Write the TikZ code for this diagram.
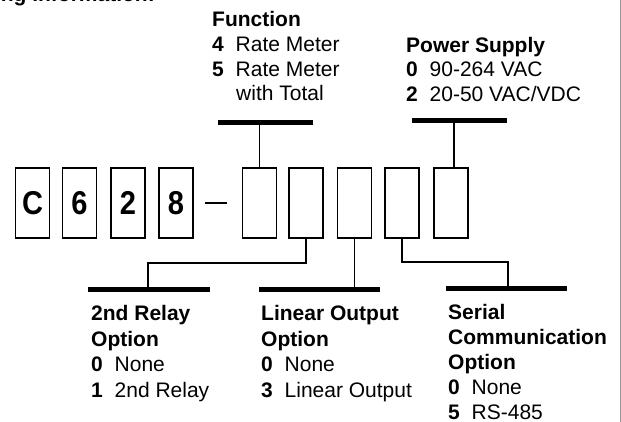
\documentclass[tikz,border=0pt]{standalone}
\usepackage{fontspec}
\setmainfont{Liberation Sans}
\newfontfamily\digitfont{Liberation Sans}[FakeStretch=0.88]
\usetikzlibrary{calc}
\tikzset{
  digitbox/.style={draw, line width=1.7pt, minimum width=34pt, minimum height=70pt, inner sep=0pt,
    font=\digitfont\fontsize{33}{33}\selectfont\bfseries},
  bar/.style={fill=black, draw=none, inner sep=0pt, minimum height=5pt},
  conn/.style={line width=1.8pt, line join=miter},
  txt/.style={inner sep=0pt, anchor=base west, font=\fontsize{21}{25}\selectfont},
  hd/.style={txt, font=\fontsize{21}{25}\selectfont\bfseries},
}
\newcommand{\itm}[2]{\makebox[23.5pt][l]{\textbf{#1}}#2}
\begin{document}
\begin{tikzpicture}[x=1pt,y=-1pt]
\useasboundingbox (0,0) rectangle (621,422);
\fill[white] (0,0) rectangle (621,422);
\draw[gray!80, line width=1pt] (620,0) -- (620,422);

% partial title
\node[inner sep=0pt, anchor=base east, font=\fontsize{21}{25}\selectfont\bfseries] (title) at (155,2) {ing Information:};

% boxes
\node[digitbox] (b1) at (32.5,203) {C};
\node[digitbox] (b2) at (79.5,203) {6};
\node[digitbox] (b3) at (128,203) {2};
\node[digitbox] (b4) at (176,203) {8};
\node[digitbox] (b5) at (259.5,203) {};
\node[digitbox] (b6) at (306,203) {};
\node[digitbox] (b7) at (354.5,203) {};
\node[digitbox] (b8) at (402,203) {};
\node[digitbox] (b9) at (451,203) {};
\draw[line width=1.6pt] ($(b4.east)+(11,0)$) -- ($(b5.west)+(-15,0)$);

% bars
\node[bar, minimum width=95pt] (fbar) at (265.5,123) {};
\node[bar, minimum width=95pt] (pbar) at (459.5,121) {};
\node[bar, minimum width=122pt] (rbar) at (149,289.5) {};
\node[bar, minimum width=121pt] (lbar) at (319.5,289.5) {};
\node[bar, minimum width=121pt] (sbar) at (506.5,288.5) {};

% connectors
\draw[conn] (b5.north) -- (b5.north |- fbar.center);
\draw[conn] ([xshift=3pt]b9.north) -- ([xshift=3pt]b9.north |- pbar.center);
\draw[conn] (b6.south) -- ++(0,24) -| ([xshift=-1pt]rbar.center);
\draw[conn] (b7.south) -- (b7.south |- lbar.center);
\draw[conn] (b8.south) -- ++(0,23) -| ([xshift=1.5pt]sbar.center);

% Function
\node[hd] (f0) at (212,27) {Function};
\node[txt] (f1) at (212,52) {\itm{4}{Rate Meter}};
\node[txt] (f2) at (212,77) {\itm{5}{Rate Meter}};
\node[txt] (f3) at (236,101) {with Total};

% Power Supply
\node[hd] (p0) at (406,53) {Power Supply};
\node[txt] (p1) at (406,77) {\itm{0}{90-264 VAC}};
\node[txt] (p2) at (406,102) {\itm{2}{20-50 VAC/VDC}};

% 2nd Relay
\node[hd] (r0) at (91,320) {2nd Relay};
\node[hd] (r1) at (91,346) {Option};
\node[txt] (r2) at (91,371) {\itm{0}{None}};
\node[txt] (r3) at (91,397) {\itm{1}{2nd Relay}};

% Linear Output
\node[hd] (l0) at (261,320) {Linear Output};
\node[hd] (l1) at (261,346) {Option};
\node[txt] (l2) at (261,371) {\itm{0}{None}};
\node[txt] (l3) at (261,397) {\itm{3}{Linear Output}};

% Serial
\node[hd] (s0) at (448,319) {Serial};
\node[hd] (s1) at (448,344) {Communication};
\node[hd] (s2) at (448,369) {Option};
\node[txt] (s3) at (448,394) {\itm{0}{None}};
\node[txt] (s4) at (448,419) {\itm{5}{RS-485}};
\end{tikzpicture}
\end{document}
